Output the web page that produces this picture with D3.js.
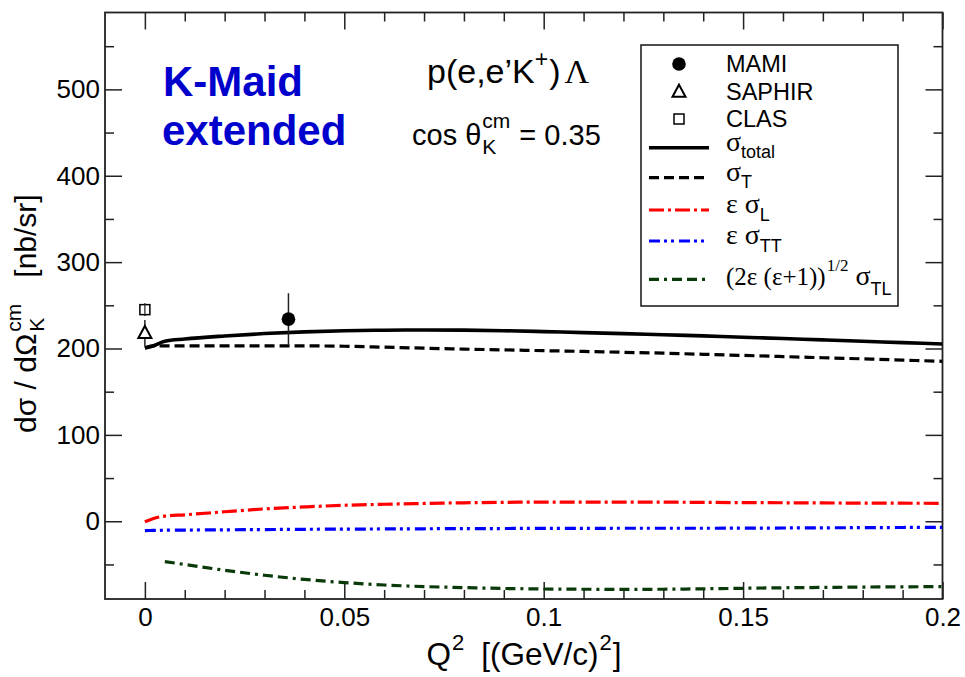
<!DOCTYPE html>
<html><head><meta charset="utf-8">
<script src="https://cdn.jsdelivr.net/npm/d3@7"></script>
<style>body{margin:0;background:#fff} svg{display:block} text{white-space:pre}</style>
</head><body><svg id="c" width="965" height="677"></svg>
<script>
// ---------------- data ----------------
const qGrid = [0, 0.002, 0.005, 0.01, 0.02, 0.03, 0.04, 0.05, 0.06, 0.07, 0.08, 0.09, 0.10, 0.11, 0.12, 0.13, 0.14, 0.15, 0.16, 0.17, 0.18, 0.19, 0.20];
const sigmaTotal = [200.5, 203, 208.5, 211, 214.5, 217.3, 219.3, 220.6, 221.2, 221.5, 221.3, 220.6, 219.6, 218.4, 217.2, 216, 214.6, 213.1, 211.5, 210, 208.4, 206.8, 205.2];
const sigmaT = [200.5, 203, 203, 203, 203, 203, 203, 202.6, 201.5, 200.4, 199.3, 198.4, 197.5, 196.6, 195.6, 194.6, 193.3, 192, 190.7, 189.3, 188, 186.6, 185.2];
const epsSigmaL = [-0.5, 3, 6, 7.5, 11, 14.3, 16.6, 18.5, 19.7, 20.6, 21.4, 21.9, 22.2, 22.2, 22.2, 22.1, 21.9, 21.6, 21.4, 21.2, 21, 20.9, 20.8];
const epsSigmaTT = [-10.8, -10.6, -10.4, -10.2, -9.9, -9.6, -9.3, -9.1, -8.9, -8.7, -8.5, -8.4, -8.2, -8.2, -8.1, -8.1, -8.1, -8, -7.8, -7.6, -7.4, -7.2, -7];
const qTL = [0.005, 0.01, 0.02, 0.03, 0.04, 0.05, 0.06, 0.07, 0.08, 0.09, 0.10, 0.11, 0.12, 0.13, 0.14, 0.15, 0.16, 0.17, 0.18, 0.19, 0.20];
const sigmaTL = [-46.7, -50, -56.7, -62.5, -67.3, -71, -73.8, -75.6, -76.8, -77.8, -78.4, -78.7, -78.8, -78.7, -78.2, -77.6, -77, -76.6, -76.2, -75.9, -75.7];

const expNames = ["MAMI", "SAPHIR", "CLAS"];
const expQ2 = [0.036, 0, 0];
const expValue = [234, 218, 245];
const expError = [30, 15, 7];

const xMajorTicks = [0, 0.05, 0.1, 0.15, 0.2];
const xTickLabels = ["0", "0.05", "0.1", "0.15", "0.2"];
const xMinorTicks = [0.01,0.02,0.03,0.04,0.06,0.07,0.08,0.09,0.11,0.12,0.13,0.14,0.16,0.17,0.18,0.19];
const yMajorTicks = [0, 100, 200, 300, 400, 500];
const yTickLabels = ["0", "100", "200", "300", "400", "500"];
const yMinorTicks = [-50, 50, 150, 250, 350, 450, 550];

// ---------------- setup ----------------
const svg = d3.select("#c");
const pLeft = 105, pRight = 942.5, pTop = 12.5, pBottom = 599;
const x = d3.scaleLinear().domain([-0.01, 0.2]).range([pLeft, pRight]);
const y = d3.scaleLinear().domain([-90, 589]).range([pBottom, pTop]);
const SANS = "'Liberation Sans', Arial, Helvetica, sans-serif";
const SERIF = "'Liberation Serif', 'Times New Roman', serif";
const AX = "#222";

function styleAxis(g) {
  g.select(".domain").remove();
  g.selectAll("line").attr("stroke", AX).attr("stroke-width", 1.5);
  g.selectAll("text").attr("font-family", SANS).attr("font-size", 26).attr("fill", "#000");
}
svg.append("g").attr("transform", `translate(0,${pBottom})`)
  .call(d3.axisBottom(x).tickValues(xMinorTicks).tickSize(-9).tickSizeOuter(0).tickFormat("")).call(styleAxis);
svg.append("g").attr("transform", `translate(0,${pBottom})`)
  .call(d3.axisBottom(x).tickValues(xMajorTicks).tickSize(-17).tickSizeOuter(0).tickPadding(9).tickFormat((d, i) => xTickLabels[i])).call(styleAxis);
svg.append("g").attr("transform", `translate(0,${pTop})`)
  .call(d3.axisTop(x).tickValues(xMinorTicks).tickSize(-9).tickSizeOuter(0).tickFormat("")).call(styleAxis);
svg.append("g").attr("transform", `translate(0,${pTop})`)
  .call(d3.axisTop(x).tickValues(xMajorTicks).tickSize(-17).tickSizeOuter(0).tickFormat("")).call(styleAxis);
svg.append("g").attr("transform", `translate(${pLeft},0)`)
  .call(d3.axisLeft(y).tickValues(yMinorTicks).tickSize(-9).tickSizeOuter(0).tickFormat("")).call(styleAxis);
svg.append("g").attr("transform", `translate(${pLeft},0)`)
  .call(d3.axisLeft(y).tickValues(yMajorTicks).tickSize(-17).tickSizeOuter(0).tickPadding(5).tickFormat((d, i) => yTickLabels[i])).call(styleAxis);
svg.append("g").attr("transform", `translate(${pRight},0)`)
  .call(d3.axisRight(y).tickValues(yMinorTicks).tickSize(-9).tickSizeOuter(0).tickFormat("")).call(styleAxis);
svg.append("g").attr("transform", `translate(${pRight},0)`)
  .call(d3.axisRight(y).tickValues(yMajorTicks).tickSize(-17).tickSizeOuter(0).tickFormat("")).call(styleAxis);

svg.append("rect").attr("x", pLeft).attr("y", pTop).attr("width", pRight - pLeft).attr("height", pBottom - pTop)
  .attr("fill", "none").attr("stroke", AX).attr("stroke-width", 1.8);

// ---------------- curves ----------------
svg.append("clipPath").attr("id", "clip").append("rect")
  .attr("x", pLeft).attr("y", pTop).attr("width", pRight - pLeft).attr("height", pBottom - pTop);
const plot = svg.append("g").attr("clip-path", "url(#clip)");
const line = d3.line().x(d => x(d[0])).y(d => y(d[1])).curve(d3.curveMonotoneX);

const styles = {
  total: { stroke: "#000", w: 3.6, dash: null },
  T: { stroke: "#000", w: 3.2, dash: "10,5" },
  L: { stroke: "#ff0000", w: 3.2, dash: "15,4,3,4" },
  TT: { stroke: "#0000ff", w: 3.2, dash: "11,4,3,4,3,5" },
  TL: { stroke: "#0a3a0a", w: 3.2, dash: "10,5,3,5,10,5" }
};
const series = [
  { key: "total", q: qGrid, v: sigmaTotal },
  { key: "T", q: qGrid, v: sigmaT },
  { key: "L", q: qGrid, v: epsSigmaL },
  { key: "TT", q: qGrid, v: epsSigmaTT },
  { key: "TL", q: qTL, v: sigmaTL }
];
series.forEach(s => {
  const st = styles[s.key];
  plot.append("path").datum(s.q.map((q, i) => [q, s.v[i]]))
    .attr("d", line).attr("fill", "none").attr("stroke", st.stroke)
    .attr("stroke-width", st.w).attr("stroke-dasharray", st.dash);
});

// ---------------- data points ----------------
function marker(g, name, cx, cy) {
  if (name === "MAMI") g.append("circle").attr("cx", cx).attr("cy", cy).attr("r", 6.8).attr("fill", "#000");
  else if (name === "SAPHIR") g.append("path")
    .attr("d", `M${cx},${cy - 7} L${cx + 6.5},${cy + 5} L${cx - 6.5},${cy + 5} Z`)
    .attr("fill", "#fff").attr("stroke", "#000").attr("stroke-width", 2);
  else g.append("rect").attr("x", cx - 5).attr("y", cy - 5).attr("width", 10).attr("height", 10)
    .attr("fill", "#fff").attr("stroke", "#000").attr("stroke-width", 1.5);
}
const pts = svg.append("g");
expNames.forEach((n, i) => {
  const cx = x(expQ2[i]);
  pts.append("line").attr("x1", cx).attr("x2", cx)
    .attr("y1", y(expValue[i] - expError[i])).attr("y2", y(expValue[i] + expError[i]))
    .attr("stroke", "#222").attr("stroke-width", 1.5);
});
expNames.forEach((n, i) => marker(pts, n, x(expQ2[i]), y(expValue[i])));
{
  const i = 2, cx = x(expQ2[i]);
  pts.append("line").attr("x1", cx).attr("x2", cx)
    .attr("y1", y(expValue[i] - expError[i])).attr("y2", y(expValue[i] + expError[i]))
    .attr("stroke", "#222").attr("stroke-width", 1.2);
}

// ---------------- rich text helper ----------------
function rich(parent, x0, y0, pieces, anchor) {
  const t = parent.append("text");
  let cur = 0, prevStart = 0;
  pieces.forEach(p => {
    const start = p.stack ? prevStart : cur + (p.gap || 0);
    const ts = t.append("tspan").attr("x", start).attr("y", p.off || 0)
      .attr("font-size", p.fs).attr("font-family", p.fam || SANS)
      .attr("font-weight", p.fw || "normal").text(p.t);
    const w = ts.node().getComputedTextLength();
    cur = Math.max(cur, start + w);
    if (!p.stack) prevStart = start;
  });
  let dx = 0;
  if (anchor === "middle") dx = -cur / 2; else if (anchor === "end") dx = -cur;
  t.attr("transform", `translate(${x0 + dx},${y0})`);
  return t;
}

// ---------------- labels ----------------
const yt = svg.append("g").attr("transform", "translate(36,433) rotate(-90)");
rich(yt, 0, 0, [
  { t: "dσ / dΩ", fs: 30 },
  { t: "cm", fs: 21, off: -15, gap: 2 },
  { t: "K", fs: 21, off: 8, stack: true },
  { t: "[nb/sr]", fs: 30, gap: 26 }
]);
rich(svg, 524, 665, [
  { t: "Q", fs: 31.5 },
  { t: "2", fs: 22, off: -15, gap: 1 },
  { t: "[(GeV/c)", fs: 31.5, gap: 17 },
  { t: "2", fs: 22, off: -15, gap: 1 },
  { t: "]", fs: 31.5, gap: 1 }
], "middle");

svg.append("text").attr("x", 163).attr("y", 96).attr("font-family", SANS).attr("font-weight", "bold")
  .attr("font-size", 42).attr("fill", "#0000cc").text("K-Maid");
svg.append("text").attr("x", 162).attr("y", 145).attr("font-family", SANS).attr("font-weight", "bold")
  .attr("font-size", 42).attr("fill", "#0000cc").text("extended");

rich(svg, 427, 83, [
  { t: "p(e,e’K", fs: 34 },
  { t: "+", fs: 23, off: -16 },
  { t: ")", fs: 34, gap: 1 },
  { t: "Λ", fs: 34, fam: SERIF, gap: 4 }
]);
rich(svg, 412, 145, [
  { t: "cos θ", fs: 29 },
  { t: "cm", fs: 21, off: -17, gap: 1 },
  { t: "K", fs: 21, off: 9, stack: true },
  { t: "= 0.35", fs: 29, gap: 9 }
]);

// ---------------- legend ----------------
const lg = svg.append("g");
lg.append("rect").attr("x", 641).attr("y", 45).attr("width", 257).attr("height", 261)
  .attr("fill", "#fff").attr("stroke", "#222").attr("stroke-width", 1.6);
const mRows = [64, 91.7, 119];
expNames.forEach((n, i) => {
  marker(lg, n, 679, mRows[i]);
  lg.append("text").attr("x", 726).attr("y", mRows[i] + 8).attr("font-family", SANS)
    .attr("font-size", 23.5).text(n);
});
const lRows = [147.7, 177.7, 210, 241, 279.3];
["total", "T", "L", "TT", "TL"].forEach((k, i) => {
  const st = styles[k];
  lg.append("line").attr("x1", 649).attr("x2", 709).attr("y1", lRows[i]).attr("y2", lRows[i])
    .attr("stroke", st.stroke).attr("stroke-width", st.w).attr("stroke-dasharray", st.dash);
});
rich(lg, 726, 151, [{ t: "σ", fs: 28, fam: SERIF }, { t: "total", fs: 18, off: 7 }]);
rich(lg, 726, 181, [{ t: "σ", fs: 28, fam: SERIF }, { t: "T", fs: 18, off: 7 }]);
rich(lg, 726, 213, [{ t: "ε σ", fs: 28, fam: SERIF }, { t: "L", fs: 18, off: 8 }]);
rich(lg, 726, 243.5, [{ t: "ε σ", fs: 28, fam: SERIF }, { t: "TT", fs: 18, off: 8 }]);
rich(lg, 726, 285, [
  { t: "(2ε (ε+1))", fs: 25, fam: SERIF },
  { t: "1/2", fs: 17, fam: SERIF, off: -14, gap: 1 },
  { t: "σ", fs: 28, fam: SERIF, gap: 7 },
  { t: "TL", fs: 18, off: 10 }
]);
</script></body></html>
